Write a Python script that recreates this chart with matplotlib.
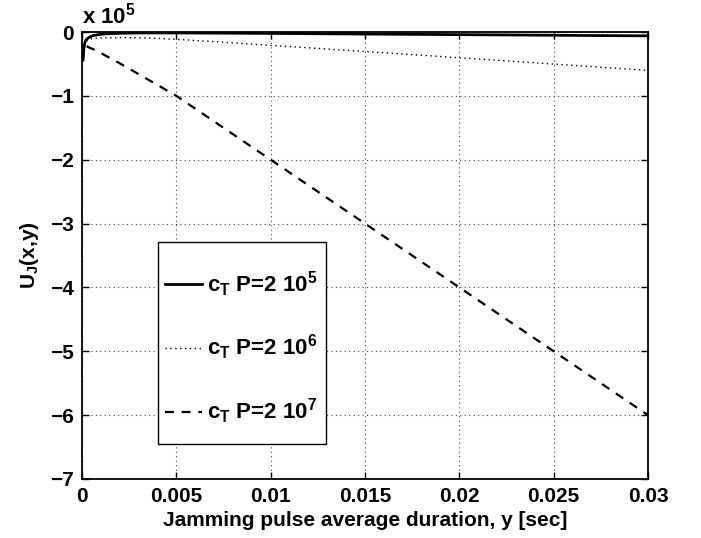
import matplotlib
matplotlib.use("Agg")
import matplotlib.pyplot as plt
from matplotlib.patches import Rectangle

plt.rcParams['font.family'] = ['Liberation Sans', 'DejaVu Sans']
plt.rcParams['font.weight'] = 'bold'
plt.rcParams['mathtext.fontset'] = 'custom'
plt.rcParams['mathtext.rm'] = 'Liberation Sans:bold'
plt.rcParams['mathtext.it'] = 'Liberation Sans:bold'
plt.rcParams['mathtext.bf'] = 'Liberation Sans:bold'

# pulse duration y [sec]
x_vals = [0.00005, 0.0001, 0.00015, 0.0002, 0.0003, 0.0004, 0.0006, 0.0008,
          0.001, 0.0015, 0.002, 0.003, 0.004, 0.005, 0.0075, 0.01, 0.0125,
          0.015, 0.0175, 0.02, 0.0225, 0.025, 0.0275, 0.03]

# U_J values in units of 1e5
u_2e5 = [-0.44, -0.25, -0.17, -0.13, -0.10, -0.08, -0.055, -0.045, -0.035,
         -0.025, -0.02, -0.015, -0.015, -0.015, -0.018, -0.022, -0.027,
         -0.032, -0.037, -0.041, -0.046, -0.051, -0.056, -0.06]
u_2e6 = [-0.44, -0.26, -0.19, -0.16, -0.13, -0.115, -0.10, -0.095,
         -0.093, -0.09, -0.088, -0.09, -0.10, -0.115, -0.16, -0.21,
         -0.257, -0.305, -0.354, -0.403, -0.452, -0.502, -0.551, -0.60]
u_2e7 = [-0.45, -0.27, -0.22, -0.22, -0.23, -0.245, -0.27, -0.30, -0.33,
         -0.41, -0.49, -0.66, -0.83, -1.0, -1.5, -2.0, -2.5, -3.0, -3.5,
         -4.0, -4.5, -5.0, -5.5, -6.0]

labels = [r'$\mathbf{c_T}$ P=2 10$^{\mathbf{5}}$',
          r'$\mathbf{c_T}$ P=2 10$^{\mathbf{6}}$',
          r'$\mathbf{c_T}$ P=2 10$^{\mathbf{7}}$']

x_ticks = [0, 0.005, 0.01, 0.015, 0.02, 0.025, 0.03]
x_ticklabels = ['0', '0.005', '0.01', '0.015', '0.02', '0.025', '0.03']
y_ticks = [-7, -6, -5, -4, -3, -2, -1, 0]
y_ticklabels = ['\u22127', '\u22126', '\u22125', '\u22124', '\u22123', '\u22122', '\u22121', '0']

W, H = 701, 538
L, R, T, B = 82, 648, 32, 479
fig = plt.figure(figsize=(W/100, H/100), dpi=100)
ax = fig.add_axes([L/W, 1 - B/H, (R-L)/W, (B-T)/H])

def ax_x(px):
    return (px - L) / (R - L)

def ax_y(py):
    return (B - py) / (B - T)

ax.plot(x_vals, u_2e5, color='black', lw=2.0, ls='-', label=labels[0])
ax.plot(x_vals, u_2e6, color='black', lw=1.0, ls=(0, (1, 2.5)), label=labels[1])
ax.plot(x_vals, u_2e7, color='black', lw=1.6, ls=(0, (4, 3.5)), label=labels[2])

ax.set_xlim(0, 0.03)
ax.set_ylim(-7, 0)
ax.set_xticks(x_ticks)
ax.set_xticklabels(x_ticklabels)
ax.set_yticks(y_ticks)
ax.set_yticklabels(y_ticklabels)
ax.tick_params(direction='in', top=True, right=True, labelsize=15, length=5, width=1, pad=6)
ax.grid(True, color='#444444', ls=(0, (1, 3)), lw=0.8)
for s in ax.spines.values():
    s.set_linewidth(1.3)

ax.set_xlabel('Jamming pulse average duration, y [sec]', fontsize=15, fontweight='bold', labelpad=3)
ax.set_ylabel(r'U$_{\mathbf{J}}$(x,y)', fontsize=15, fontweight='bold', labelpad=6)
ax.text(0.0, 1.008, r'x 10$^{\mathbf{5}}$', transform=ax.transAxes, fontsize=16,
        fontweight='bold', ha='left', va='bottom')

# legend box frame (MATLAB-style, drawn separately)
bx0, by0, bx1, by1 = 157.7, 242, 325.7, 444
ax.add_patch(Rectangle((ax_x(bx0), ax_y(by1)), ax_x(bx1) - ax_x(bx0), ax_y(by0) - ax_y(by1),
                       transform=ax.transAxes, facecolor='white', edgecolor='black',
                       lw=1.0, zorder=4))
leg = ax.legend(loc='upper left', bbox_to_anchor=(ax_x(165), ax_y(269)),
                fontsize=16, frameon=False, labelspacing=1.55, handlelength=1.67,
                handletextpad=0.22, borderpad=0, borderaxespad=0)
leg.set_zorder(5)

fig.savefig('out.png', dpi=100)
